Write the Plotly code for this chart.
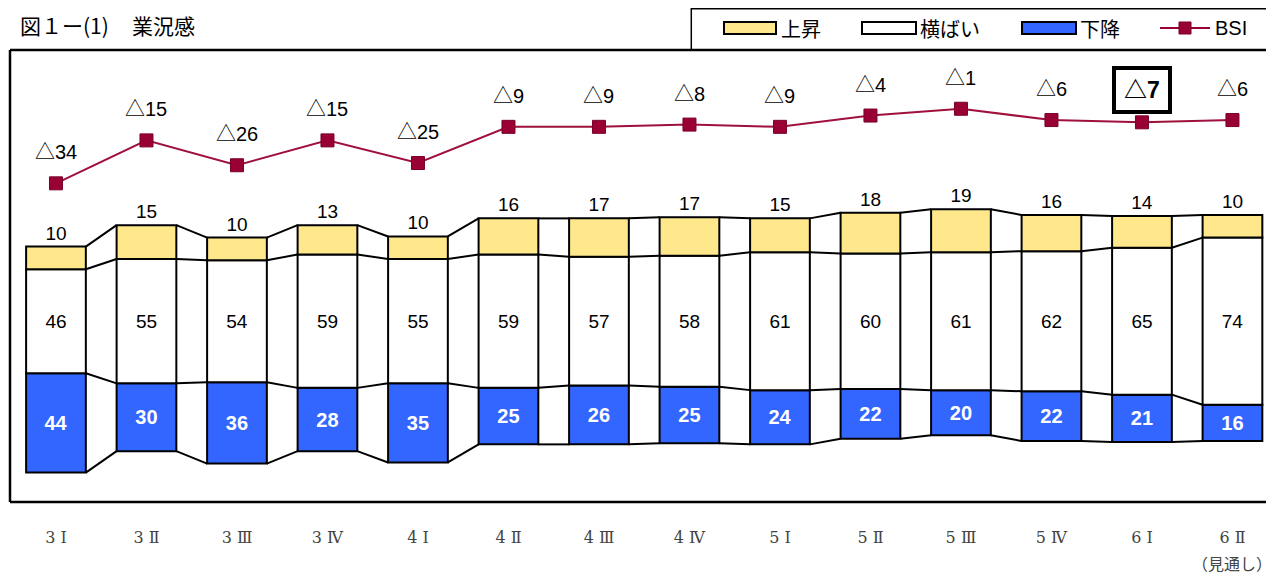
import plotly.graph_objects as go

periods = ["3 Ⅰ", "3 Ⅱ", "3 Ⅲ", "3 Ⅳ", "4 Ⅰ", "4 Ⅱ", "4 Ⅲ", "4 Ⅳ",
           "5 Ⅰ", "5 Ⅱ", "5 Ⅲ", "5 Ⅳ", "6 Ⅰ", "6 Ⅱ"]
up = [10, 15, 10, 13, 10, 16, 17, 17, 15, 18, 19, 16, 14, 10]
flat = [46, 55, 54, 59, 55, 59, 57, 58, 61, 60, 61, 62, 65, 74]
down = [44, 30, 36, 28, 35, 25, 26, 25, 24, 22, 20, 22, 21, 16]
bsi = [-34, -15, -26, -15, -25, -9, -9, -8, -9, -4, -1, -6, -7, -6]
highlight = 12  # 6 Ⅰ is boxed

YELLOW = "#FFE88C"
BLUE = "#3366FF"
RED = "#990033"
FONT = "Liberation Sans, Noto Sans CJK JP, sans-serif"
JP = "Noto Sans CJK JP, sans-serif"
BW = 0.66

x = list(range(len(periods)))
fig = go.Figure()

# bars centred on the middle of the "横ばい" block
fig.add_trace(go.Bar(
    x=x, y=down, base=[-(f / 2 + d) for f, d in zip(flat, down)], width=BW,
    marker=dict(color=BLUE, line=dict(color="black", width=2)),
    text=[str(v) for v in down], textposition="inside", insidetextanchor="middle",
    textangle=0, textfont=dict(family=FONT, size=20, color="white", weight="bold"),
    showlegend=False, hoverinfo="skip"))
fig.add_trace(go.Bar(
    x=x, y=flat, base=[-f / 2 for f in flat], width=BW,
    marker=dict(color="white", line=dict(color="black", width=2)),
    text=[str(v) for v in flat], textposition="inside", insidetextanchor="middle",
    textangle=0, textfont=dict(family=FONT, size=19, color="black"),
    showlegend=False, hoverinfo="skip"))
fig.add_trace(go.Bar(
    x=x, y=up, base=[f / 2 for f in flat], width=BW,
    marker=dict(color=YELLOW, line=dict(color="black", width=2)),
    text=[str(v) for v in up], textposition="outside", cliponaxis=False,
    textangle=0, textfont=dict(family=FONT, size=19, color="black"),
    showlegend=False, hoverinfo="skip"))

# series lines between neighbouring bars
levels = []
for f, d, u in zip(flat, down, up):
    levels.append([-(f / 2 + d), -f / 2, f / 2, f / 2 + u])
cx, cy = [], []
for i in range(len(periods) - 1):
    for k in range(4):
        cx += [i + BW / 2, i + 1 - BW / 2, None]
        cy += [levels[i][k], levels[i + 1][k], None]
fig.add_trace(go.Scatter(x=cx, y=cy, mode="lines", line=dict(color="black", width=2),
                         showlegend=False, hoverinfo="skip"))

# BSI line
fig.add_trace(go.Scatter(
    x=x, y=bsi, yaxis="y2", mode="lines+markers",
    line=dict(color="#A0103C", width=2),
    marker=dict(symbol="square", size=13, color=RED, line=dict(color="#7a0026", width=1)),
    showlegend=False, hoverinfo="skip"))

for i, v in enumerate(bsi):
    lab = f"△{abs(v)}" if v < 0 else str(v)
    if i == highlight:
        fig.add_annotation(x=i, y=v, xref="x", yref="y2", text=f"<b>{lab}</b>",
                           showarrow=False, yshift=32, width=50, height=38,
                           bgcolor="white", bordercolor="black", borderwidth=4,
                           font=dict(family=FONT, size=23, color="black"))
    else:
        fig.add_annotation(x=i, y=v, xref="x", yref="y2", text=lab, showarrow=False,
                           yshift=31, font=dict(family=FONT, size=20, color="black"))

# frame and legend box
fig.add_shape(type="rect", xref="paper", yref="paper", x0=0.539, x1=1.05, y0=1.0, y1=1.091,
              line=dict(color="black", width=1.5), fillcolor="white", layer="below")
for x0, y0, x1, y1 in [(0, 0, 1.05, 0), (0, 1, 1.05, 1), (0, 0, 0, 1)]:
    fig.add_shape(type="line", xref="paper", yref="paper", x0=x0, y0=y0, x1=x1, y1=y1,
                  line=dict(color="black", width=2.5))

# legend drawn by hand (wide swatches); positions in page pixels
def px(v):
    return (v - 10) / 1264

ly0, ly1 = (502 - 34) / 452, (502 - 22) / 452
lyc = (502 - 28) / 452
for (a, b, col, name, tx) in [(724, 776, YELLOW, "上昇", 779), (862, 916, "white", "横ばい", 918),
                              (1022, 1076, BLUE, "下降", 1078)]:
    fig.add_shape(type="rect", xref="paper", yref="paper", x0=px(a), x1=px(b), y0=ly0, y1=ly1,
                  fillcolor=col, line=dict(color="black", width=2))
    fig.add_annotation(x=px(tx), y=lyc, xref="paper", yref="paper", text=name, showarrow=False,
                       xanchor="left", yanchor="middle", font=dict(family=JP, size=20, color="black"))
fig.add_shape(type="line", xref="paper", yref="paper", x0=px(1160), x1=px(1210), y0=lyc, y1=lyc,
              line=dict(color=RED, width=2))
fig.add_shape(type="rect", xref="paper", yref="paper", x0=px(1179), x1=px(1191),
              y0=lyc - 6 / 452, y1=lyc + 6 / 452, fillcolor=RED, line=dict(color="#7a0026", width=1))
fig.add_annotation(x=px(1213), y=lyc, xref="paper", yref="paper", text="BSI", showarrow=False,
                   xanchor="left", yanchor="middle", font=dict(family=FONT, size=20, color="black"))

# title (two parts, as in the original) and note; kept inside the figure's top edge
title_y = (502 - 8.5) / 452
fig.add_annotation(x=px(19), y=title_y, xref="paper", yref="paper", text="図１ー(1)",
                   showarrow=False, xanchor="left", yanchor="top", borderpad=0,
                   font=dict(family=JP, size=21, color="black"))
fig.add_annotation(x=px(131), y=title_y, xref="paper", yref="paper", text="業況感",
                   showarrow=False, xanchor="left", yanchor="top", borderpad=0,
                   font=dict(family=JP, size=21, color="black"))
fig.add_annotation(x=13, y=(502 - 563) / 452, xref="x", yref="paper", text="（見通し）",
                   showarrow=False, xanchor="center", yanchor="middle",
                   font=dict(family=JP, size=16, color="#444444"))

# the page body has an 8px margin, so the figure is 8px smaller on each side
fig.update_layout(
    width=1266, height=570,
    margin=dict(l=2, r=0, t=42, b=76),
    paper_bgcolor="white", plot_bgcolor="white",
    barmode="overlay", showlegend=False,
    xaxis=dict(range=[-0.508, 13.459], tickvals=x, ticktext=periods,
               showgrid=False, zeroline=False, showline=False,
               ticks="outside", ticklen=21, tickcolor="rgba(0,0,0,0)",
               tickfont=dict(family="DejaVu Serif, Noto Sans CJK JP, serif", size=16,
                             color="#444444")),
    yaxis=dict(range=[-80, 120], visible=False),
    yaxis2=dict(range=[-175, 25], overlaying="y", visible=False),
)

fig.write_html("out.html")
